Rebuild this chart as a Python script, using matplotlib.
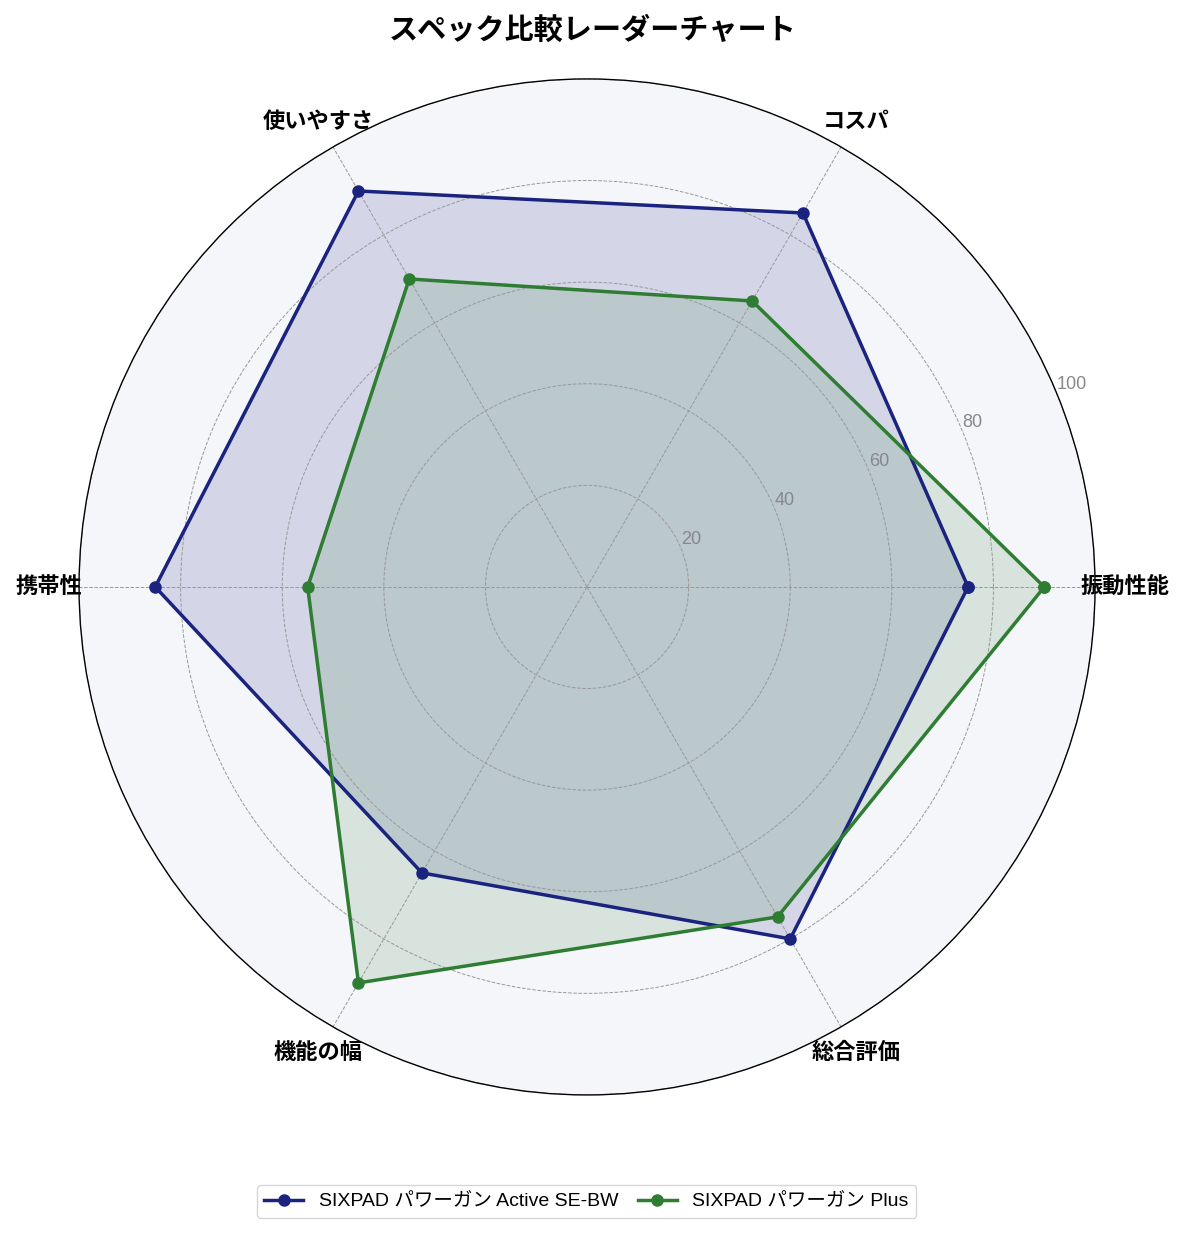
import numpy as np
import matplotlib
matplotlib.use("Agg")
import matplotlib.pyplot as plt

plt.rcParams['font.family'] = ['Noto Sans CJK JP', 'DejaVu Sans']
latin_first = ['Liberation Sans', 'Noto Sans CJK JP']

# Data
categories = ['振動性能', 'コスパ', '使いやすさ', '携帯性', '機能の幅', '総合評価']
series_names = ['SIXPAD パワーガン Active SE-BW', 'SIXPAD パワーガン Plus']
active_vals = [75, 85, 90, 85, 65, 80]
plus_vals = [90, 65, 70, 55, 90, 75]
rticks = [20, 40, 60, 80, 100]

colors = ['#1a237e', '#2e7d32']

angles = np.linspace(0, 2 * np.pi, len(categories), endpoint=False)
angles_closed = np.concatenate([angles, angles[:1]])

fig = plt.figure(figsize=(11.85, 12.35), dpi=100)
ax = fig.add_axes([0.0667, 0.1134, 0.8574, 0.8227], projection='polar')
ax.set_facecolor('#f5f6fa')

for vals, name, c in zip([active_vals, plus_vals], series_names, colors):
    v = np.concatenate([vals, vals[:1]])
    ax.plot(angles_closed, v, color=c, linewidth=2.5, marker='o', markersize=8, label=name)
    ax.fill(angles_closed, v, color=c, alpha=0.15)

ax.set_ylim(0, 100)
ax.set_yticks(rticks)
ax.set_yticklabels([str(t) for t in rticks], color='#888888', fontsize=13, family=latin_first)
ax.set_rlabel_position(22.5)
ax.set_thetagrids(np.degrees(angles), categories, fontsize=16, fontweight='bold')
ax.tick_params(axis='x', pad=11)
ax.grid(color='#999999', linestyle='--', linewidth=0.7)
ax.spines['polar'].set_color('black')
ax.spines['polar'].set_linewidth(1.0)

fig.suptitle('スペック比較レーダーチャート', fontsize=21, fontweight='bold', y=0.988)
fig.legend(loc='center', bbox_to_anchor=(0.495, 0.027), ncol=2, frameon=True,
           prop={'family': latin_first, 'size': 14}, columnspacing=1.0, handlelength=2.0)

fig.savefig('out.png', dpi=100)
